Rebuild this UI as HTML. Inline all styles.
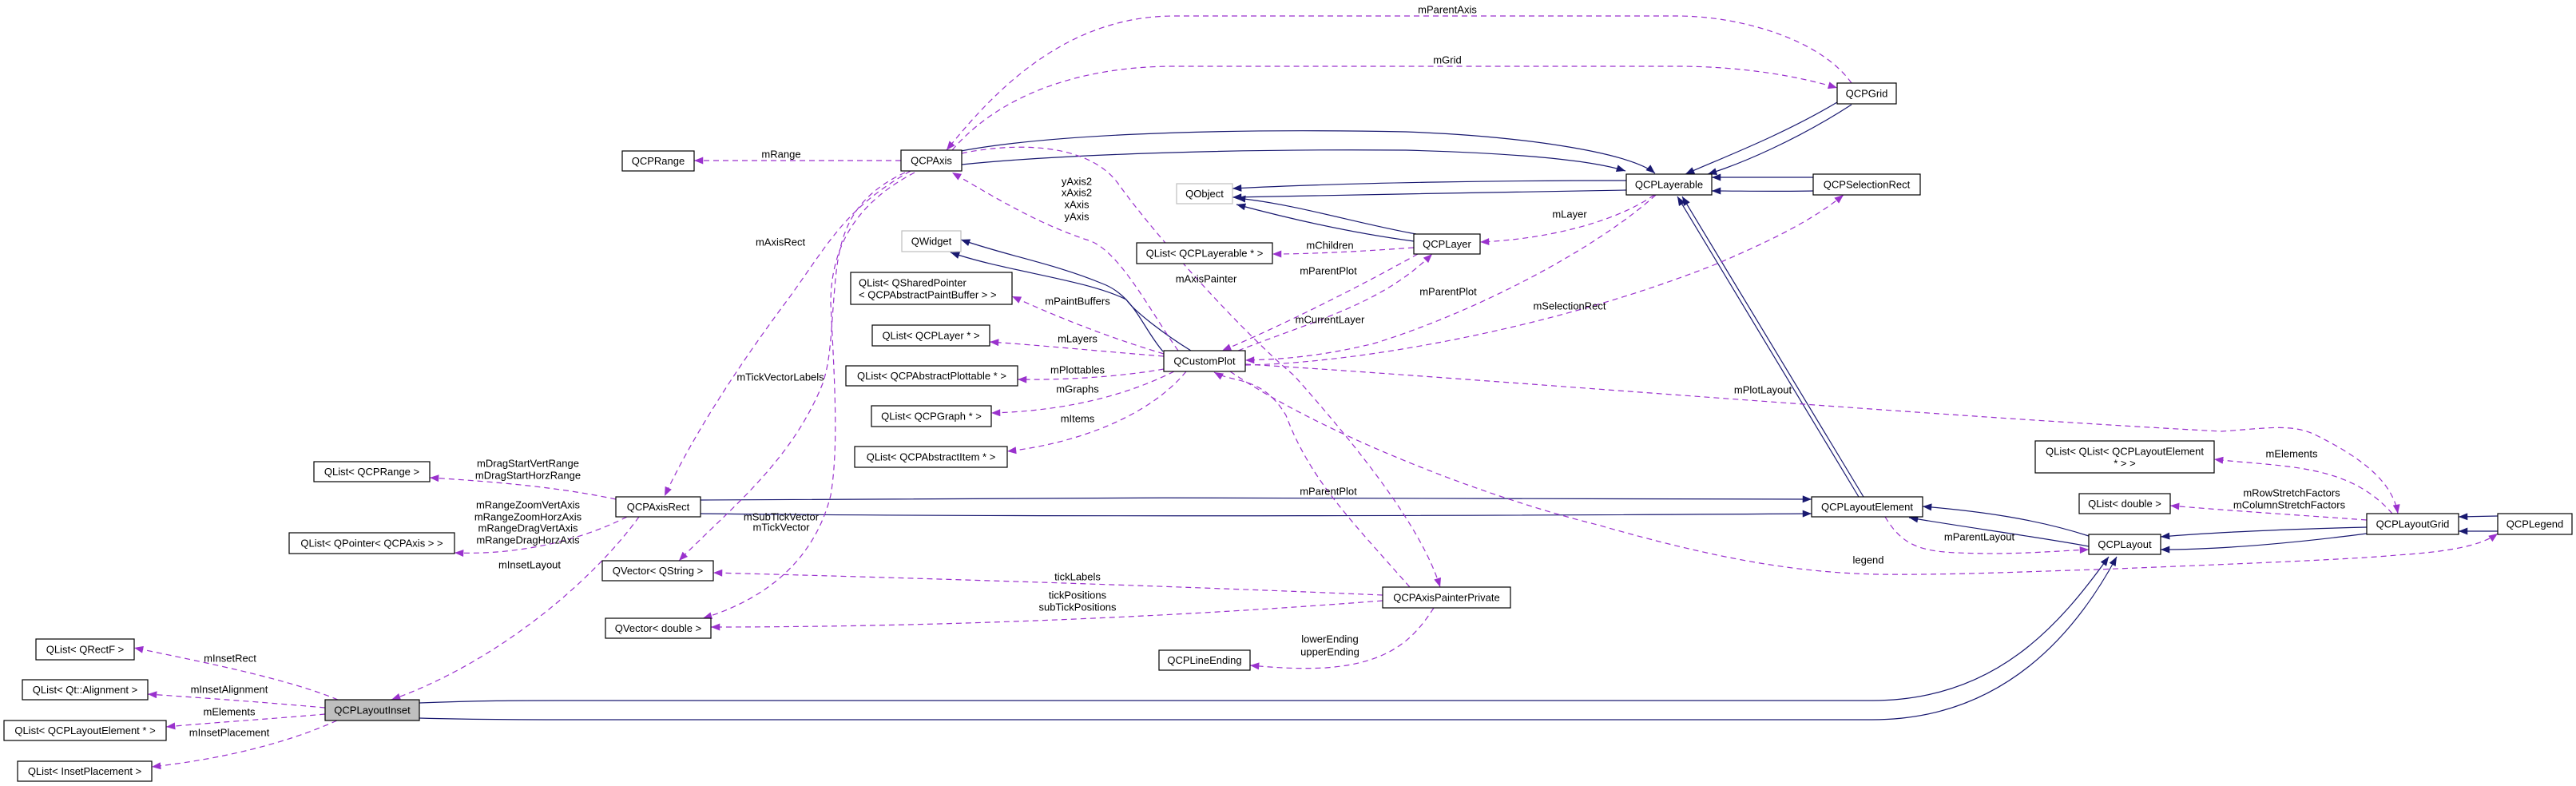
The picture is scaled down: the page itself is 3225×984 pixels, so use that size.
<!DOCTYPE html>
<html><head><meta charset="utf-8"><style>
html,body{margin:0;padding:0;background:#fff;}
svg{display:block;}
text{font-family:"Liberation Sans",sans-serif;font-size:13px;fill:#000;}
.n{fill:#fff;stroke:#000;stroke-width:1.2;}
.g{fill:#fff;stroke:#bfbfbf;stroke-width:1.2;}
.b{fill:none;stroke:#191970;stroke-width:1.2;}
.p{fill:none;stroke:#9a32cd;stroke-width:1.2;stroke-dasharray:7,5;}
</style></head><body>
<svg width="3225" height="984" viewBox="0 0 3225 984" xmlns="http://www.w3.org/2000/svg">
<defs>
<marker id="ab" viewBox="0 0 10 8" refX="10" refY="4" markerWidth="12" markerHeight="9" markerUnits="userSpaceOnUse" orient="auto"><path d="M0,0 L10,4 L0,8 z" fill="#191970"/></marker>
<marker id="ap" viewBox="0 0 10 8" refX="10" refY="4" markerWidth="12" markerHeight="9" markerUnits="userSpaceOnUse" orient="auto"><path d="M0,0 L10,4 L0,8 z" fill="#9a32cd"/></marker>
</defs>

<!-- inheritance (blue) -->
<g class="b" marker-end="url(#ab)">
<path d="M1198,190 C1300,170 1500,160 1760,165 C1900,170 2040,190 2072,217"/>
<path d="M1204,206 C1300,196 1500,186 1760,188 C1900,192 1990,200 2035,214"/>
<path d="M2300,128 C2230,170 2150,200 2110,218"/>
<path d="M2318,131 C2250,175 2180,205 2138,218"/>
<path d="M2270,222 L2143,222"/>
<path d="M2270,239 C2220,240 2180,239 2143,239"/>
<path d="M2327,622 L2100,246"/>
<path d="M2333,622 L2106,246"/>
<path d="M2036,226 C1900,226 1700,228 1543,236"/>
<path d="M2036,238 C1900,240 1700,244 1543,247"/>
<path d="M1773,293 C1700,280 1620,255 1548,248"/>
<path d="M1770,302 C1680,290 1600,270 1548,256"/>
<path d="M1456,440 C1430,410 1420,370 1380,355 C1320,330 1260,320 1203,300"/>
<path d="M1491,439 C1460,420 1420,390 1410,375 C1360,350 1260,340 1190,316"/>
<path d="M877,626 C1300,623 2000,621 2268,625"/>
<path d="M877,643 C1300,648 2000,645 2268,643"/>
<path d="M2615,671 C2550,650 2480,640 2407,634"/>
<path d="M2615,684 C2550,672 2460,660 2390,648"/>
<path d="M2963,660 C2880,662 2790,665 2705,672"/>
<path d="M2963,668 C2870,680 2780,688 2705,688"/>
<path d="M3127,646 L3078,647"/>
<path d="M3127,665 L3078,665"/>
<path d="M525,880 C600,877 650,877 700,877 L2344,877 C2500,877 2580,780 2640,697"/>
<path d="M525,899 C600,901 650,901 700,901 L2344,901 C2510,901 2600,790 2650,697"/>
</g>

<!-- usage (purple dashed) -->
<g class="p" marker-end="url(#ap)">
<path d="M1128,201 L869,201"/>
<path d="M2318,104 C2280,50 2180,20 2100,20 L1470,20 C1330,20 1240,120 1185,188"/>
<path d="M1192,188 C1250,120 1350,83 1470,83 L2100,83 C2180,83 2250,95 2300,110"/>
<path d="M1140,214 C1060,260 1040,300 990,370 C930,450 870,540 832,621"/>
<path d="M1133,216 C1060,250 1050,300 1045,360 C1040,420 1040,450 1030,480 C990,580 910,640 850,702"/>
<path d="M1145,216 C1080,250 1040,300 1040,380 C1045,480 1050,560 1040,620 C1020,700 960,750 880,774"/>
<path d="M1204,192 C1260,180 1360,175 1400,230 C1450,300 1560,420 1620,470 C1700,560 1780,660 1803,735"/>
<path d="M1475,439 C1440,390 1400,310 1360,300 C1300,280 1250,250 1192,216"/>
<path d="M1770,310 C1700,315 1640,318 1593,318"/>
<path d="M2071,244 C2020,280 1930,300 1853,303"/>
<path d="M1775,318 C1700,360 1600,410 1530,439"/>
<path d="M1550,439 C1650,400 1730,380 1793,318"/>
<path d="M2073,244 C2000,310 1850,390 1720,430 C1650,447 1600,450 1559,451"/>
<path d="M1559,457 C1700,455 1950,410 2150,330 C2220,300 2270,275 2308,244"/>
<path d="M1457,443 C1380,420 1320,395 1267,371"/>
<path d="M1457,446 C1380,440 1300,432 1239,428"/>
<path d="M1457,462 C1400,472 1330,476 1274,475"/>
<path d="M1470,465 C1400,500 1320,515 1241,517"/>
<path d="M1485,465 C1440,520 1350,555 1261,565"/>
<path d="M1559,456 C1800,470 2400,520 2781,540 C2840,536 2870,530 2900,545 C2950,570 2995,600 3002,643"/>
<path d="M2995,643 C2940,580 2860,585 2772,575"/>
<path d="M2963,651 C2880,645 2800,640 2717,633"/>
<path d="M1540,465 C1650,540 1850,620 2000,657 C2150,700 2250,717 2352,719 C2450,720 2550,715 2625,713 C2800,706 2950,700 3000,695 C3080,690 3110,680 3127,668"/>
<path d="M2360,647 C2380,680 2400,690 2450,692 C2520,695 2570,690 2615,688"/>
<path d="M1765,735 C1690,650 1640,600 1610,520 C1580,470 1545,480 1520,466"/>
<path d="M1731,745 C1500,735 1200,725 893,717"/>
<path d="M1731,752 C1500,770 1200,785 890,785"/>
<path d="M1795,761 C1770,800 1740,830 1660,836 C1620,838 1590,835 1565,833"/>
<path d="M771,625 C700,610 620,603 538,598"/>
<path d="M785,647 C720,680 640,695 569,692"/>
<path d="M800,647 C740,730 620,830 490,876"/>
<path d="M423,876 C360,850 260,830 168,811"/>
<path d="M407,886 C340,880 260,874 185,869"/>
<path d="M407,894 C340,900 260,905 208,910"/>
<path d="M422,902 C360,930 280,950 190,960"/>
</g>

<!-- nodes -->
<g>
<rect class="n" x="45" y="800" width="123" height="26"/><text x="106.5" y="813" text-anchor="middle" dominant-baseline="central">QList&lt; QRectF &gt;</text>
<rect class="n" x="28" y="851" width="157" height="25"/><text x="106.5" y="863.5" text-anchor="middle" dominant-baseline="central">QList&lt; Qt::Alignment &gt;</text>
<rect class="n" x="5" y="902" width="203" height="25"/><text x="106.5" y="914.5" text-anchor="middle" dominant-baseline="central">QList&lt; QCPLayoutElement * &gt;</text>
<rect class="n" x="22" y="953" width="168" height="25"/><text x="106" y="965.5" text-anchor="middle" dominant-baseline="central">QList&lt; InsetPlacement &gt;</text>
<rect x="407" y="876" width="118" height="26" fill="#bfbfbf" stroke="#000" stroke-width="1.2"/><text x="466" y="889" text-anchor="middle" dominant-baseline="central">QCPLayoutInset</text>
<rect class="n" x="393" y="578" width="145" height="25"/><text x="465.5" y="590.5" text-anchor="middle" dominant-baseline="central">QList&lt; QCPRange &gt;</text>
<rect class="n" x="362" y="667" width="207" height="26"/><text x="465.5" y="680" text-anchor="middle" dominant-baseline="central">QList&lt; QPointer&lt; QCPAxis &gt; &gt;</text>
<rect class="n" x="771" y="622" width="106" height="25"/><text x="824" y="634.5" text-anchor="middle" dominant-baseline="central">QCPAxisRect</text>
<rect class="n" x="754" y="702" width="139" height="25"/><text x="823.5" y="714.5" text-anchor="middle" dominant-baseline="central">QVector&lt; QString &gt;</text>
<rect class="n" x="758" y="774" width="132" height="25"/><text x="824" y="786.5" text-anchor="middle" dominant-baseline="central">QVector&lt; double &gt;</text>
<rect class="n" x="779" y="189" width="90" height="25"/><text x="824" y="201.5" text-anchor="middle" dominant-baseline="central">QCPRange</text>
<rect class="n" x="1128" y="188" width="76" height="26"/><text x="1166" y="201" text-anchor="middle" dominant-baseline="central">QCPAxis</text>
<rect class="g" x="1129" y="289" width="74" height="26"/><text x="1166" y="302" text-anchor="middle" dominant-baseline="central">QWidget</text>
<rect class="g" x="1473" y="230" width="70" height="25"/><text x="1508" y="242.5" text-anchor="middle" dominant-baseline="central">QObject</text>
<rect class="n" x="1065" y="341" width="202" height="40"/><text x="1075" y="354" dominant-baseline="central">QList&lt; QSharedPointer</text><text x="1075" y="369" dominant-baseline="central">&lt; QCPAbstractPaintBuffer &gt; &gt;</text>
<rect class="n" x="1423" y="304" width="170" height="26"/><text x="1508" y="317" text-anchor="middle" dominant-baseline="central">QList&lt; QCPLayerable * &gt;</text>
<rect class="n" x="1770" y="293" width="83" height="25"/><text x="1811.5" y="305.5" text-anchor="middle" dominant-baseline="central">QCPLayer</text>
<rect class="n" x="1092" y="407" width="147" height="26"/><text x="1165.5" y="420" text-anchor="middle" dominant-baseline="central">QList&lt; QCPLayer * &gt;</text>
<rect class="n" x="1457" y="439" width="102" height="26"/><text x="1508" y="452" text-anchor="middle" dominant-baseline="central">QCustomPlot</text>
<rect class="n" x="1059" y="458" width="215" height="25"/><text x="1166.5" y="470.5" text-anchor="middle" dominant-baseline="central">QList&lt; QCPAbstractPlottable * &gt;</text>
<rect class="n" x="1091" y="508" width="150" height="26"/><text x="1166" y="521" text-anchor="middle" dominant-baseline="central">QList&lt; QCPGraph * &gt;</text>
<rect class="n" x="1070" y="559" width="191" height="26"/><text x="1165.5" y="572" text-anchor="middle" dominant-baseline="central">QList&lt; QCPAbstractItem * &gt;</text>
<rect class="n" x="1731" y="735" width="160" height="26"/><text x="1811" y="748" text-anchor="middle" dominant-baseline="central">QCPAxisPainterPrivate</text>
<rect class="n" x="1451" y="814" width="114" height="25"/><text x="1508" y="826.5" text-anchor="middle" dominant-baseline="central">QCPLineEnding</text>
<rect class="n" x="2300" y="104" width="74" height="26"/><text x="2337" y="117" text-anchor="middle" dominant-baseline="central">QCPGrid</text>
<rect class="n" x="2036" y="218" width="107" height="26"/><text x="2089.5" y="231" text-anchor="middle" dominant-baseline="central">QCPLayerable</text>
<rect class="n" x="2270" y="218" width="134" height="26"/><text x="2337" y="231" text-anchor="middle" dominant-baseline="central">QCPSelectionRect</text>
<rect class="n" x="2548" y="552" width="224" height="40"/><text x="2660" y="565" text-anchor="middle" dominant-baseline="central">QList&lt; QList&lt; QCPLayoutElement</text><text x="2660" y="580" text-anchor="middle" dominant-baseline="central">* &gt; &gt;</text>
<rect class="n" x="2603" y="618" width="114" height="25"/><text x="2660" y="630.5" text-anchor="middle" dominant-baseline="central">QList&lt; double &gt;</text>
<rect class="n" x="2268" y="622" width="139" height="25"/><text x="2337.5" y="634.5" text-anchor="middle" dominant-baseline="central">QCPLayoutElement</text>
<rect class="n" x="2615" y="669" width="90" height="25"/><text x="2660" y="681.5" text-anchor="middle" dominant-baseline="central">QCPLayout</text>
<rect class="n" x="2963" y="643" width="115" height="26"/><text x="3020.5" y="656" text-anchor="middle" dominant-baseline="central">QCPLayoutGrid</text>
<rect class="n" x="3127" y="643" width="93" height="26"/><text x="3173.5" y="656" text-anchor="middle" dominant-baseline="central">QCPLegend</text>
</g>

<!-- edge labels -->
<g text-anchor="middle" dominant-baseline="central">
<text x="1812" y="12">mParentAxis</text>
<text x="1812" y="75">mGrid</text>
<text x="978" y="193">mRange</text>
<text x="977" y="303">mAxisRect</text>
<text x="1348" y="227">yAxis2</text>
<text x="1348" y="241">xAxis2</text>
<text x="1348" y="256">xAxis</text>
<text x="1348" y="271">yAxis</text>
<text x="1965" y="268">mLayer</text>
<text x="1665" y="307">mChildren</text>
<text x="1663" y="339">mParentPlot</text>
<text x="1510" y="349">mAxisPainter</text>
<text x="1813" y="365">mParentPlot</text>
<text x="1349" y="377">mPaintBuffers</text>
<text x="1965" y="383">mSelectionRect</text>
<text x="1665" y="400">mCurrentLayer</text>
<text x="1349" y="424">mLayers</text>
<text x="1349" y="463">mPlottables</text>
<text x="1349" y="487">mGraphs</text>
<text x="1349" y="524">mItems</text>
<text x="977" y="472">mTickVectorLabels</text>
<text x="2207" y="488">mPlotLayout</text>
<text x="2869" y="568">mElements</text>
<text x="661" y="580">mDragStartVertRange</text>
<text x="661" y="595">mDragStartHorzRange</text>
<text x="1663" y="615">mParentPlot</text>
<text x="2869" y="617">mRowStretchFactors</text>
<text x="2866" y="632">mColumnStretchFactors</text>
<text x="661" y="632">mRangeZoomVertAxis</text>
<text x="661" y="647">mRangeZoomHorzAxis</text>
<text x="661" y="661">mRangeDragVertAxis</text>
<text x="661" y="676">mRangeDragHorzAxis</text>
<text x="978" y="647">mSubTickVector</text>
<text x="978" y="660">mTickVector</text>
<text x="2478" y="672">mParentLayout</text>
<text x="2339" y="701">legend</text>
<text x="663" y="707">mInsetLayout</text>
<text x="1349" y="722">tickLabels</text>
<text x="1349" y="745">tickPositions</text>
<text x="1349" y="760">subTickPositions</text>
<text x="1665" y="800">lowerEnding</text>
<text x="1665" y="816">upperEnding</text>
<text x="288" y="824">mInsetRect</text>
<text x="287" y="863">mInsetAlignment</text>
<text x="287" y="891">mElements</text>
<text x="287" y="917">mInsetPlacement</text>
</g>
</svg>
</body></html>
